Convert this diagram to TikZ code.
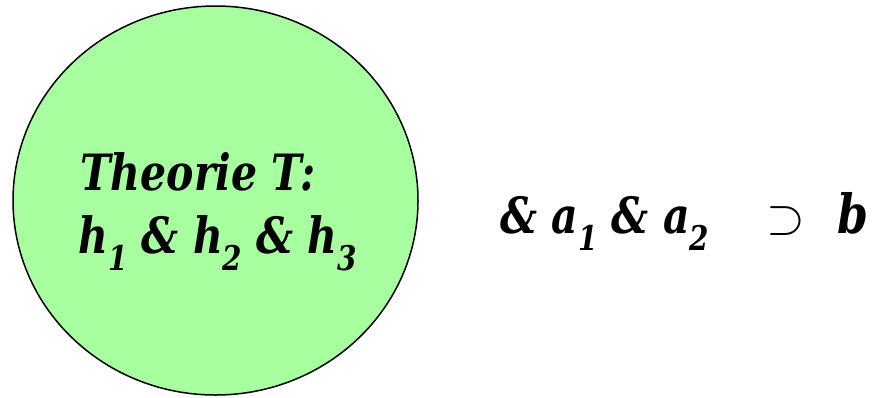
\documentclass[tikz,border=0pt]{standalone}
\usepackage{fontspec}
\setmainfont[FakeStretch=0.82]{DejaVu Serif}
\usetikzlibrary{shapes.geometric}
\definecolor{circgreen}{HTML}{A8FFA0}
\newcommand{\mysub}[1]{\raisebox{-0.34em}{\fontsize{17}{17}\selectfont #1}}
\begin{document}
\begin{tikzpicture}[x=0.5pt,y=-0.5pt,
  formula/.style={inner sep=0pt, anchor=base west, font=\fontsize{25}{30}\selectfont\bfseries\itshape}]
\useasboundingbox (0,0) rectangle (886,397);
\node[draw=black, line width=0.75pt, fill=circgreen, ellipse, minimum width=405*0.5pt, minimum height=389*0.5pt, inner sep=0pt] (theory) at (215.5,200.5) {};
\node[formula] (t1) at (80,190) {Theorie T:};
\node[formula] (t2) at (78,253) {h\mysub{1} \& h\mysub{2} \& h\mysub{3}};
\node[formula] (rhs) at (500,233) {\& a\mysub{1} \& a\mysub{2}};
\node[inner sep=0pt, anchor=base, font=\fontsize{26}{30}\selectfont] (sup) at (786,233) {$\supset$};
\node[formula, font=\fontsize{27}{30}\selectfont\bfseries\itshape] (b) at (837,233) {b};
\end{tikzpicture}
\end{document}
